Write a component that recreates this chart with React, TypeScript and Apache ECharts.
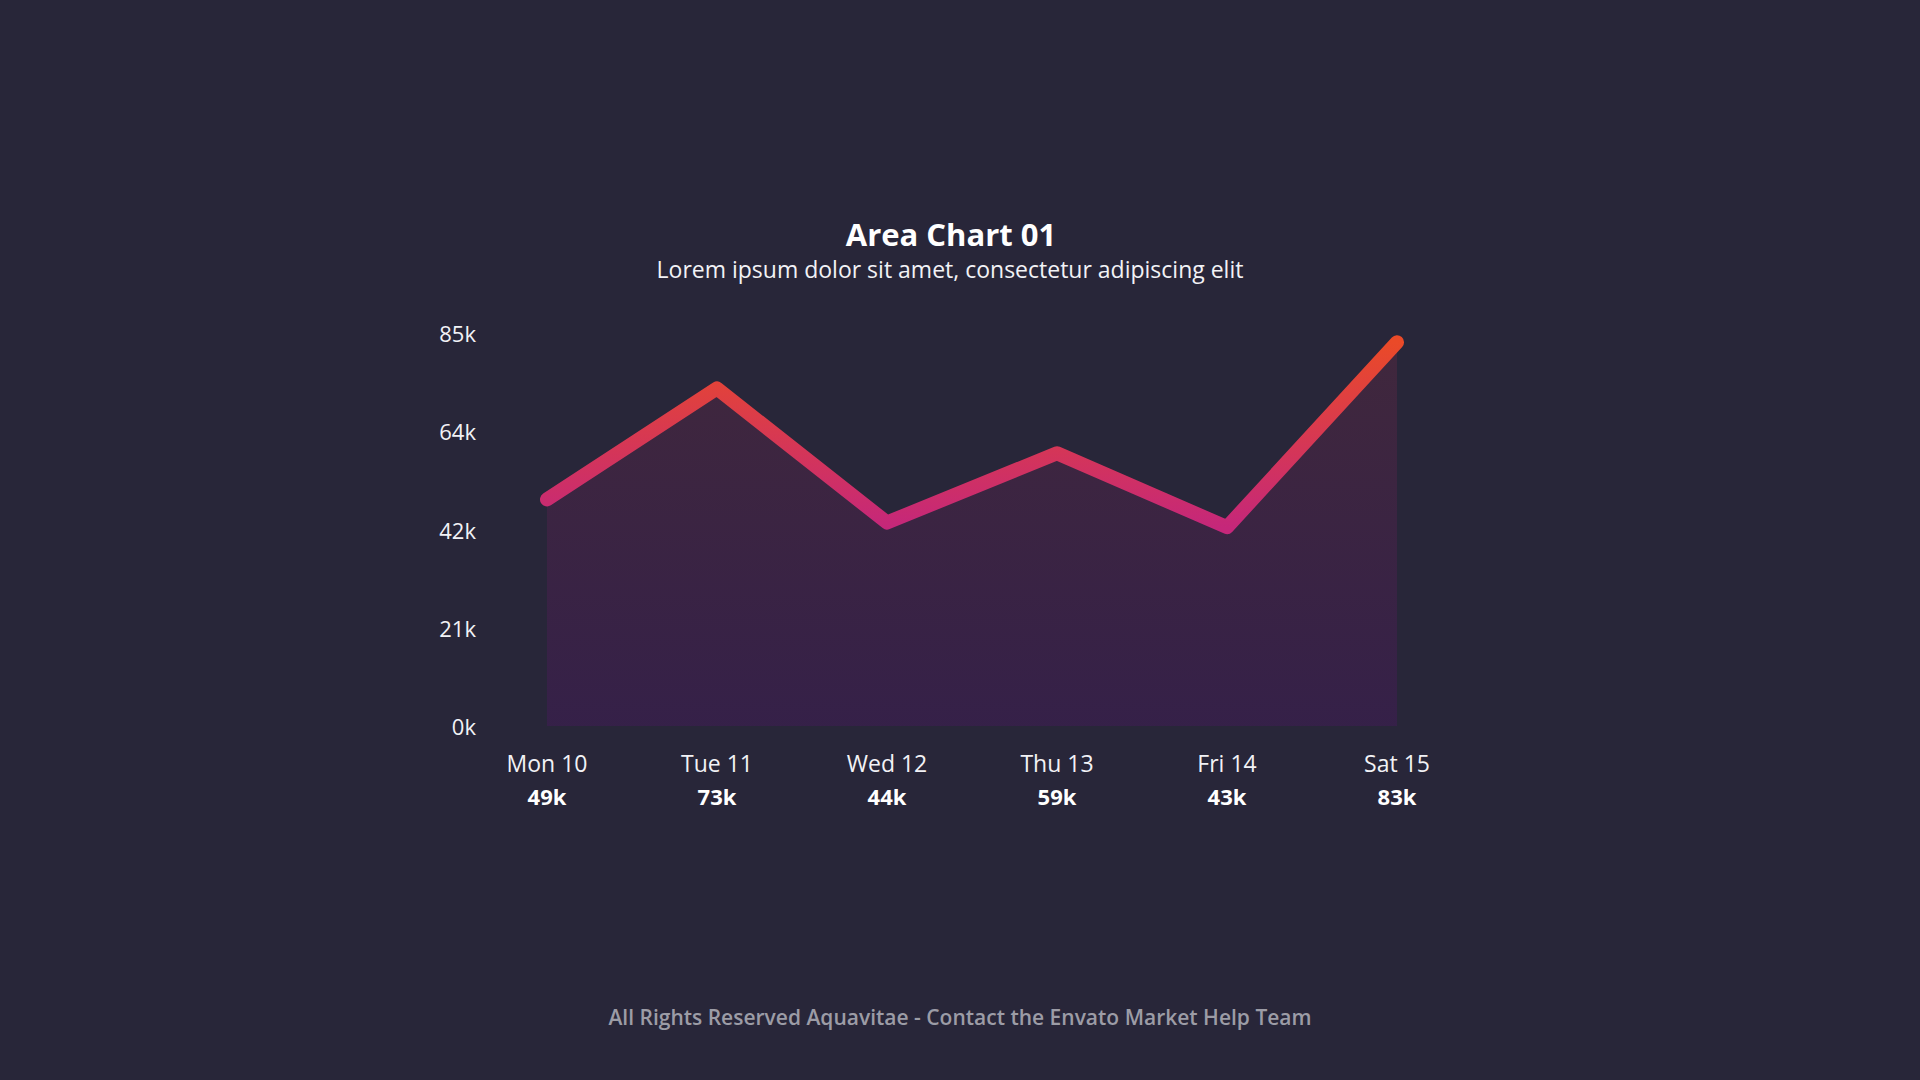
import React, { useEffect, useRef } from "react";
import * as echarts from "echarts";

const categories = ["Mon 10", "Tue 11", "Wed 12", "Thu 13", "Fri 14", "Sat 15"];
const values = [49000, 73000, 44000, 59000, 43000, 83000];
const valueLabels = ["49k", "73k", "44k", "59k", "43k", "83k"];
const yTickLabels = ["0k", "21k", "42k", "64k", "85k"];
const yMax = 85000;
const yInterval = 21250;

const FONT = "'Open Sans', 'DejaVu Sans', sans-serif";

export default function App() {
  const ref = useRef<HTMLDivElement>(null);
  useEffect(() => {
    document.body.style.margin = "0";
    document.body.style.background = "#282639";
    if (!ref.current) return;
    const chart = echarts.init(ref.current, undefined, { renderer: "svg" });
    chart.setOption({
      animation: false,
      backgroundColor: "#282639",
      graphic: [
        {
          type: "text",
          x: 951,
          y: 234,
          style: {
            text: "Area Chart 01",
            fill: "#ffffff",
            font: `bold 31px ${FONT}`,
            textAlign: "center",
            textVerticalAlign: "middle",
          },
        },
        {
          type: "text",
          x: 950,
          y: 269,
          style: {
            text: "Lorem ipsum dolor sit amet, consectetur adipiscing elit",
            fill: "#f2f2f6",
            font: `23px ${FONT}`,
            textAlign: "center",
            textVerticalAlign: "middle",
          },
        },
        {
          type: "text",
          x: 960,
          y: 1017,
          style: {
            text: "All Rights Reserved Aquavitae - Contact the Envato Market Help Team",
            fill: "#9c9ca6",
            font: `600 21px ${FONT}`,
            textAlign: "center",
            textVerticalAlign: "middle",
          },
        },
      ],
      grid: { left: 547, right: 523, top: 333, bottom: 354, containLabel: false },
      xAxis: {
        type: "category",
        data: categories,
        boundaryGap: false,
        axisLine: { show: false },
        axisTick: { show: false },
        splitLine: { show: false },
        axisLabel: {
          margin: 20,
          interval: 0,
          formatter: (v: string, i: number) => `{a|${v}}\n{b|${valueLabels[i]}}`,
          rich: {
            a: { color: "#f2f2f6", fontSize: 23, fontFamily: FONT, lineHeight: 34 },
            b: { color: "#ffffff", fontSize: 22, fontWeight: "bold", fontFamily: FONT, lineHeight: 32 },
          },
        },
      },
      yAxis: {
        type: "value",
        min: 0,
        max: yMax,
        interval: yInterval,
        axisLine: { show: false },
        axisTick: { show: false },
        splitLine: { show: false },
        axisLabel: {
          margin: 71,
          color: "#f2f2f6",
          fontSize: 22,
          fontFamily: FONT,
          formatter: (v: number) => yTickLabels[Math.round(v / yInterval)] ?? "",
        },
      },
      series: [
        {
          type: "line",
          data: values,
          symbol: "none",
          lineStyle: {
            width: 14,
            cap: "round",
            join: "round",
            color: new echarts.graphic.LinearGradient(0, 0, 0, 1, [
              { offset: 0, color: "#ea4a28" },
              { offset: 1, color: "#c5277a" },
            ]),
          },
          areaStyle: {
            color: new echarts.graphic.LinearGradient(0, 0, 0, 1, [
              { offset: 0, color: "#4a283e" },
              { offset: 1, color: "#3b1e4f" },
            ]),
          },
        },
      ],
    });
    return () => chart.dispose();
  }, []);
  return <div ref={ref} style={{ width: 1920, height: 1080 }} />;
}
